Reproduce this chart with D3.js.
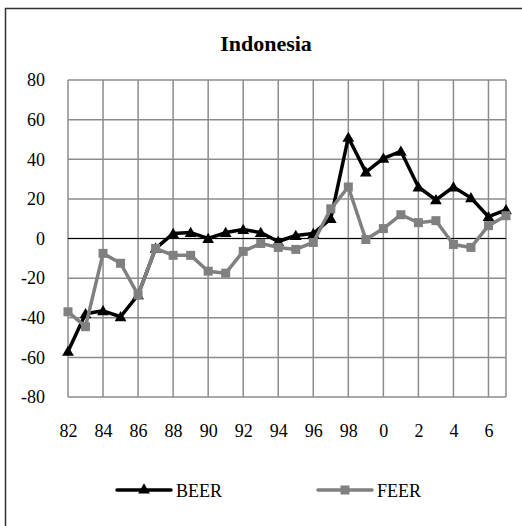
<!DOCTYPE html>
<html>
<head>
<meta charset="utf-8">
<script src="https://cdn.jsdelivr.net/npm/d3@7"></script>
<style>
  body { margin: 0; background: #fff; }
  svg text { font-family: "Liberation Serif", "DejaVu Serif", serif; }
</style>
</head>
<body>
<div id="chart"></div>
<script>
// years 1982..2007, labels show last two digits (2000 -> "0")
const years = ["82","83","84","85","86","87","88","89","90","91","92","93","94","95","96","97","98","99","0","1","2","3","4","5","6","7"];
const beer = [-57, -38, -36.5, -39.5, -28.5, -5, 2.5, 3, 0, 3, 4.5, 3, -1.5, 1.5, 2.5, 10, 51, 33.5, 40.5, 44, 26, 19.5, 26, 20.5, 11, 14.5];
const feer = [-37, -44.5, -7.5, -12.5, -28.5, -5, -8.5, -8.5, -16.5, -17.5, -6.5, -2.5, -4.5, -5.5, -2, 15, 26, -0.5, 5, 12, 8, 9, -3, -4.5, 6.5, 11.5];
const yTicks = [80, 60, 40, 20, 0, -20, -40, -60, -80];
const xTickLabels = years.filter((d, i) => i % 2 === 0);

const W = 522, H = 526;
const plot = {left: 68, right: 506, top: 80, bottom: 397};
const serif = "'Liberation Serif', 'DejaVu Serif', serif";

const svg = d3.select("#chart").append("svg")
    .attr("width", W)
    .attr("height", H);

svg.append("rect")
    .attr("x", 5.5).attr("y", 8.5)
    .attr("width", 540).attr("height", 540)
    .attr("fill", "#fff")
    .attr("stroke", "#333")
    .attr("stroke-width", 1.5);

svg.append("text")
    .attr("x", 266).attr("y", 51)
    .attr("text-anchor", "middle")
    .attr("font-family", serif)
    .style("font-size", "22px")
    .style("font-weight", "bold")
    .text("Indonesia");

const x = d3.scalePoint()
    .domain(years)
    .range([plot.left, plot.right]);

const y = d3.scaleLinear()
    .domain([-80, 80])
    .range([plot.bottom, plot.top]);

// gridlines
const grid = svg.append("g");
grid.selectAll(".hg")
    .data(yTicks)
    .join("line")
    .attr("x1", plot.left).attr("x2", plot.right)
    .attr("y1", d => y(d)).attr("y2", d => y(d))
    .attr("stroke", "#8c8c8c")
    .attr("stroke-width", 1.5);
grid.selectAll(".vg")
    .data(xTickLabels.concat([years[years.length - 1]]))
    .join("line")
    .attr("x1", d => x(d)).attr("x2", d => x(d))
    .attr("y1", plot.top).attr("y2", plot.bottom)
    .attr("stroke", "#8c8c8c")
    .attr("stroke-width", 1.5);

// zero line
svg.append("line")
    .attr("x1", plot.left).attr("x2", plot.right)
    .attr("y1", y(0)).attr("y2", y(0))
    .attr("stroke", "#000")
    .attr("stroke-width", 1.2);

// y axis labels (plain hyphen for negatives, like the original)
const yAxis = d3.axisLeft(y).tickValues(yTicks).tickSize(0).tickPadding(23)
    .tickFormat(d => String(d));
svg.append("g")
    .attr("transform", `translate(${plot.left},0)`)
    .call(yAxis)
    .attr("font-family", serif)
    .attr("font-size", 18)
    .call(g => g.select(".domain").remove())
    .call(g => g.selectAll("text").attr("fill", "#000"));

// x axis labels
const xAxis = d3.axisBottom(x).tickValues(xTickLabels).tickSize(0).tickPadding(27);
svg.append("g")
    .attr("transform", `translate(0,${plot.bottom})`)
    .call(xAxis)
    .attr("font-family", serif)
    .attr("font-size", 18)
    .call(g => g.select(".domain").remove())
    .call(g => g.selectAll("text").attr("fill", "#000"));

const line = d3.line()
    .x((d, i) => x(years[i]))
    .y(d => y(d));

const triangle = d3.symbol().type(d3.symbolTriangle).size(60);

function drawSeries(values, color, marker) {
    svg.append("path")
        .datum(values)
        .attr("d", line)
        .attr("fill", "none")
        .attr("stroke", color)
        .attr("stroke-width", 3.5)
        .attr("stroke-linejoin", "round");
    const g = svg.append("g");
    if (marker === "triangle") {
        g.selectAll("path")
            .data(values)
            .join("path")
            .attr("d", triangle)
            .attr("transform", (d, i) => `translate(${x(years[i])},${y(d) + 1})`)
            .attr("fill", color);
    } else {
        g.selectAll("rect")
            .data(values)
            .join("rect")
            .attr("x", (d, i) => x(years[i]) - 4.5)
            .attr("y", d => y(d) - 4.5)
            .attr("width", 9).attr("height", 9)
            .attr("fill", color);
    }
}

drawSeries(beer, "#000", "triangle");
drawSeries(feer, "#808080", "square");

// legend
const legend = [
    {name: "BEER", color: "#000", marker: "triangle", x0: 117},
    {name: "FEER", color: "#808080", marker: "square", x0: 318}
];
const ly = 490;
legend.forEach(l => {
    svg.append("line")
        .attr("x1", l.x0).attr("x2", l.x0 + 54)
        .attr("y1", ly).attr("y2", ly)
        .attr("stroke", l.color)
        .attr("stroke-width", 3.5)
        .attr("stroke-linecap", "round");
    if (l.marker === "triangle") {
        svg.append("path")
            .attr("d", triangle)
            .attr("transform", `translate(${l.x0 + 27},${ly})`)
            .attr("fill", l.color);
    } else {
        svg.append("rect")
            .attr("x", l.x0 + 27 - 4.5).attr("y", ly - 4.5)
            .attr("width", 9).attr("height", 9)
            .attr("fill", l.color);
    }
    svg.append("text")
        .attr("x", l.x0 + 59).attr("y", ly + 7)
        .attr("font-family", serif)
        .style("font-size", "18px")
        .text(l.name);
});
</script>
</body>
</html>
